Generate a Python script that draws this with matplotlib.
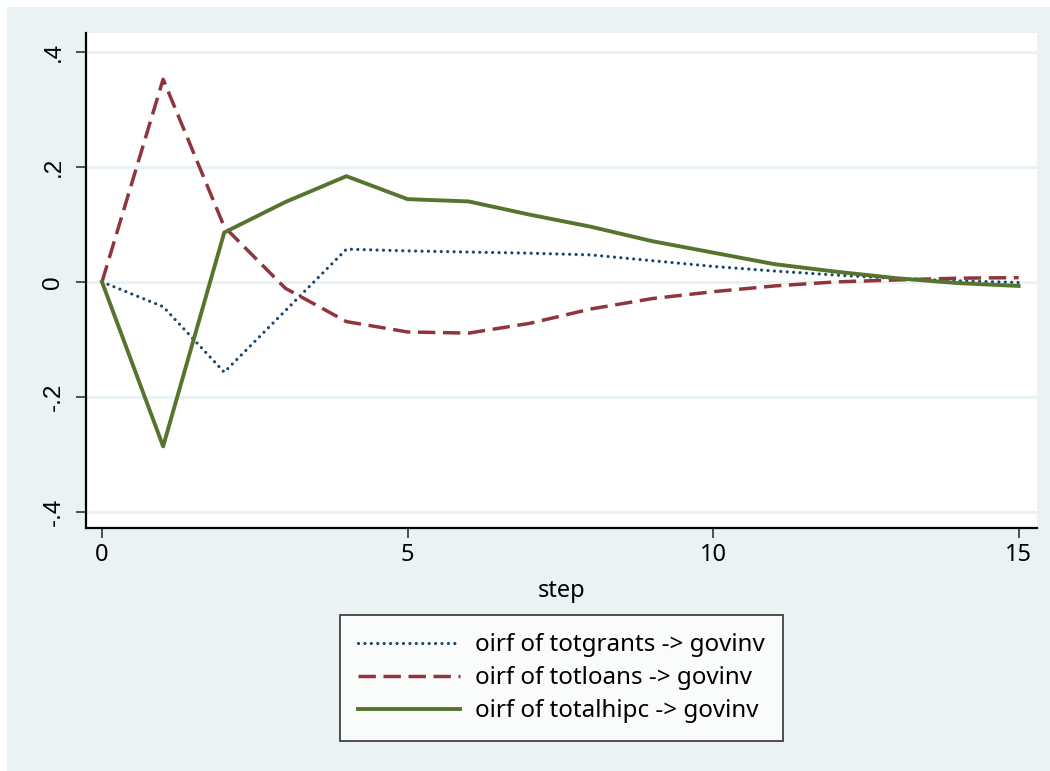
import numpy as np
import matplotlib.pyplot as plt
from matplotlib.patches import Rectangle

# impulse responses (orthogonalized irf)
steps = list(range(16))
grants = [0, -0.043, -0.157, -0.05, 0.057, 0.054, 0.052, 0.050, 0.047,
          0.037, 0.027, 0.019, 0.012, 0.006, 0.002, -0.001]
loans = [0, 0.3525, 0.096, -0.011, -0.069, -0.087, -0.089, -0.072, -0.047,
         -0.029, -0.017, -0.007, 0.0, 0.0035, 0.0065, 0.0075]
hipc = [0, -0.286, 0.086, 0.139, 0.184, 0.144, 0.140, 0.117, 0.096,
        0.071, 0.051, 0.031, 0.018, 0.0065, -0.002, -0.007]

labels = ['oirf of totgrants -> govinv',
          'oirf of totloans -> govinv',
          'oirf of totalhipc -> govinv']
yticks = [-0.4, -0.2, 0, 0.2, 0.4]
yticklabels = ['-.4', '-.2', '0', '.2', '.4']
xticks = [0, 5, 10, 15]

bg = '#eaf2f3'
navy = '#1a476f'
maroon = '#90353b'
green = '#55752f'

W, H = 1050, 771
fig = plt.figure(figsize=(W / 100, H / 100), dpi=100)
fig.patch.set_facecolor('white')
fig.patches.append(Rectangle((7 / W, 0), 1 - 7 / W, 1 - 7 / H,
                             transform=fig.transFigure, facecolor=bg,
                             edgecolor='none', zorder=-10))

ax = fig.add_axes([86 / W, 1 - 528 / H, (1037 - 86) / W, (528 - 33) / H])
ax.set_facecolor('white')

ax.plot(steps, grants, color=navy, lw=2.3, linestyle=(0, (0.01, 2.0)),
        dash_capstyle='round', label=labels[0])
ax.plot(steps, loans, color=maroon, lw=2.5, linestyle=(0, (5.0, 2.2)),
        label=labels[1])
ax.plot(steps, hipc, color=green, lw=2.8, label=labels[2])

ax.set_xlim(-0.262, 15.3)
ax.set_ylim(-0.428, 0.433)
ax.set_yticks(yticks)
ax.set_yticklabels(yticklabels, rotation=90, va='center',
                   fontsize=17.5, family='Liberation Sans')
ax.set_xticks(xticks)
ax.set_xticklabels([str(t) for t in xticks], fontsize=17, family='Noto Sans')
ax.grid(axis='y', color=bg, lw=2.2)
ax.set_axisbelow(True)
ax.tick_params(length=7.5, width=1.2, color='#333333')
ax.tick_params(axis='y', pad=8)
ax.tick_params(axis='x', pad=3)

for s in ['top', 'right']:
    ax.spines[s].set_visible(False)
for s in ['left', 'bottom']:
    ax.spines[s].set_linewidth(1.6)
    ax.spines[s].set_color('black')

ax.set_xlabel('step', fontsize=17, family='Noto Sans', labelpad=9)

leg = ax.legend(loc='upper center', bbox_to_anchor=(0.5, -0.176),
                frameon=True, fancybox=False, edgecolor='black',
                prop={'family': 'Noto Sans', 'size': 17.4},
                handlelength=4.25, handletextpad=0.62, borderpad=0.74,
                labelspacing=0.38, borderaxespad=0)
leg.get_frame().set_linewidth(1.2)

fig.savefig('out.png', dpi=100)
